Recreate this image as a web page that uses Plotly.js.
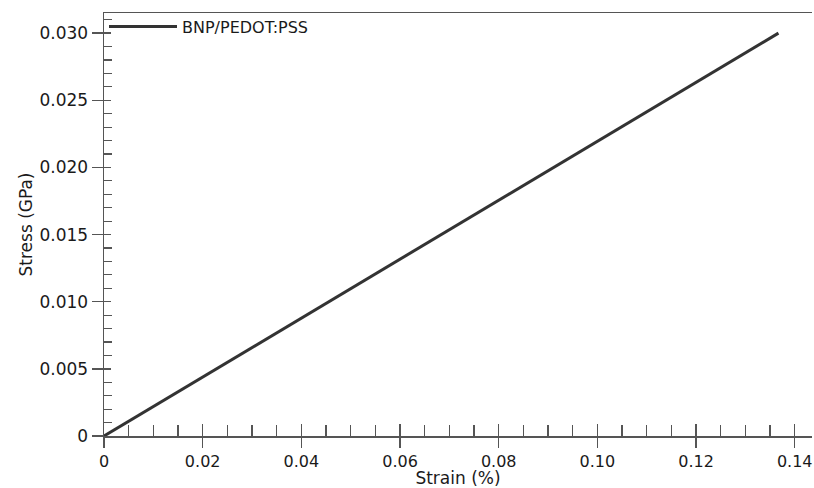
<!DOCTYPE html>
<html>
<head>
<meta charset="utf-8">
<script src="https://cdn.plot.ly/plotly-3.0.1.min.js"></script>
<style>html,body{margin:0;padding:0;background:#fff;}#chart{width:814px;height:488px;}</style>
</head>
<body>
<div id="chart"></div>
<script>
const seriesName = "BNP/PEDOT:PSS";
const strain = [0, 0.0367, 0.0733, 0.1100, 0.1367];
const stress = [0, 0.00805, 0.0161, 0.02415, 0.0300];
const xTickVals = [0, 0.02, 0.04, 0.06, 0.08, 0.10, 0.12, 0.14];
const xTickText = ["0", "0.02", "0.04", "0.06", "0.08", "0.10", "0.12", "0.14"];
const yTickVals = [0, 0.005, 0.010, 0.015, 0.020, 0.025, 0.030];
const yTickText = ["0", "0.005", "0.010", "0.015", "0.020", "0.025", "0.030"];
const xTitle = "Strain (%)";
const yTitle = "Stress (GPa)";

const font = "DejaVu Sans, Verdana, sans-serif";
const xRange = [0, 0.1435];
const yRange = [0, 0.0315];
const axisColor = "#555";
const textColor = "#1a1a1a";

const traces = [
  {x: strain, y: stress, type: "scatter", mode: "lines", name: seriesName,
   line: {color: "#333", width: 3}},
  {x: strain, y: stress, type: "scatter", mode: "lines", xaxis: "x2", yaxis: "y2",
   showlegend: false, hoverinfo: "skip", line: {color: "rgba(0,0,0,0)", width: 0}}
];

const layout = {
  width: 814, height: 488,
  margin: {l: 104, r: 2, t: 13, b: 52},
  paper_bgcolor: "#fff", plot_bgcolor: "#fff",
  font: {family: font, color: textColor, size: 17},
  showlegend: true,
  legend: {x: 0, y: 1.008, xanchor: "left", yanchor: "top", bgcolor: "rgba(0,0,0,0)",
           font: {family: font, size: 16, color: textColor}, itemwidth: 68, tracegroupgap: 0},
  xaxis: {range: xRange, showgrid: false, zeroline: false, showline: true, mirror: true,
          linecolor: axisColor, linewidth: 1.5, ticks: "outside", ticklen: 10, tickwidth: 1.5,
          tickcolor: axisColor, tickvals: xTickVals, ticktext: xTickText,
          ticklabeloverflow: "allow",
          tickfont: {size: 16, color: textColor},
          title: {text: xTitle, font: {size: 17, color: textColor}, standoff: 2}},
  yaxis: {range: yRange, showgrid: false, zeroline: false, showline: true,
          linecolor: axisColor, linewidth: 1.5, ticks: "outside", ticklen: 11, tickwidth: 1.5,
          tickcolor: axisColor, tickvals: yTickVals, ticktext: yTickText,
          ticklabeloverflow: "allow",
          tickfont: {size: 17, color: textColor},
          title: {text: yTitle, font: {size: 17, color: textColor}, standoff: 2}},
  xaxis2: {range: xRange, overlaying: "x", anchor: "y2", side: "bottom", showgrid: false,
           zeroline: false, showline: false, showticklabels: false,
           ticks: "inside", ticklen: 12, tickwidth: 1.5, tickcolor: axisColor,
           tickmode: "linear", tick0: 0, dtick: 0.02,
           minor: {ticks: "inside", ticklen: 11, tickwidth: 1.2, tickcolor: axisColor, dtick: 0.005, showgrid: false}},
  yaxis2: {range: yRange, overlaying: "y", anchor: "x2", side: "left", showgrid: false,
           zeroline: false, showline: false, showticklabels: false,
           ticks: "inside", ticklen: 7, tickwidth: 1.5, tickcolor: axisColor,
           tickmode: "linear", tick0: 0, dtick: 0.005,
           minor: {ticks: "inside", ticklen: 8, tickwidth: 1.2, tickcolor: axisColor, dtick: 0.001, showgrid: false}}
};

Plotly.newPlot("chart", traces, layout, {displayModeBar: false, staticPlot: true});
</script>
</body>
</html>
